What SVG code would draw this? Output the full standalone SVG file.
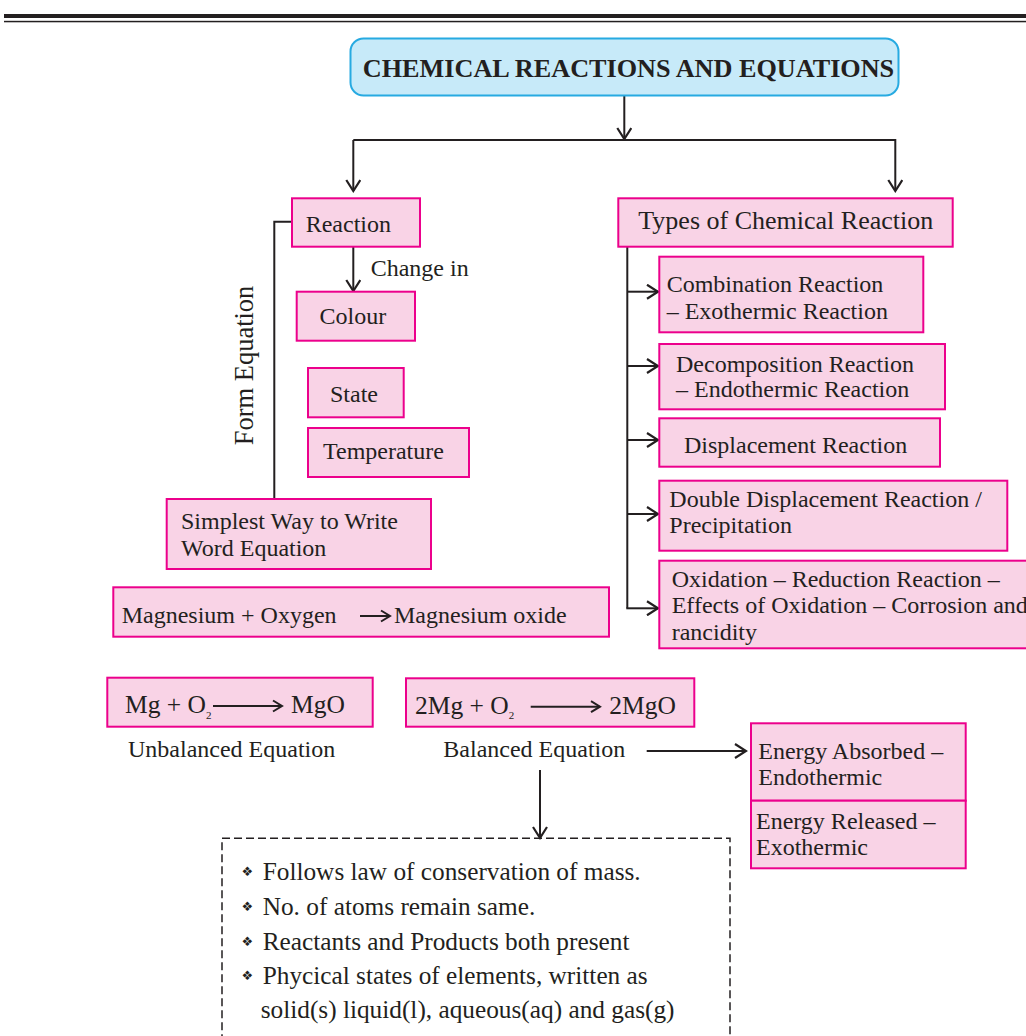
<svg xmlns="http://www.w3.org/2000/svg" width="1026" height="1036" viewBox="0 0 1026 1036">
<style>
.bx{fill:#f9d3e6;stroke:#ec008c;stroke-width:2}
.t{font-family:"Liberation Serif","Times New Roman",serif;font-size:24px;fill:#231f20}
.eq{font-family:"Liberation Serif","Times New Roman",serif;font-size:25.5px;fill:#231f20}
.ln{fill:none;stroke:#231f20;stroke-width:2}
.bul{font-family:"DejaVu Sans",sans-serif;font-size:13px;fill:#231f20}
.bt{font-family:"Liberation Serif","Times New Roman",serif;font-size:25.3px;fill:#231f20}
</style>
<defs>
<marker id="ah" viewBox="0 0 14 16" refX="12" refY="8" markerWidth="14" markerHeight="16" orient="auto" markerUnits="userSpaceOnUse">
<path d="M1,1 L12,8 L1,15" fill="none" stroke="#231f20" stroke-width="2.2"/>
</marker>
<marker id="ahs" viewBox="0 0 12 14" refX="10" refY="7" markerWidth="12" markerHeight="14" orient="auto" markerUnits="userSpaceOnUse">
<path d="M1,1.5 L10,7 L1,12.5" fill="none" stroke="#231f20" stroke-width="2"/>
</marker>
</defs>
<rect width="1026" height="1036" fill="#ffffff"/>
<g id="header-rule">
<rect x="4" y="14" width="1022" height="4" fill="#231f20"/>
<rect x="4" y="20.8" width="1022" height="1.5" fill="#231f20"/>
</g>
<g id="connectors">
<line class="ln" x1="624.3" y1="95" x2="624.3" y2="139" marker-end="url(#ah)"/>
<polyline class="ln" points="353.3,140 895.3,140 895.3,191" marker-end="url(#ah)"/>
<line class="ln" x1="353.3" y1="140" x2="353.3" y2="191" marker-end="url(#ah)"/>
<polyline class="ln" points="292,221.7 274.3,221.7 274.3,499"/>
<line class="ln" x1="353.3" y1="247" x2="353.3" y2="291" marker-end="url(#ah)"/>
<line class="ln" x1="627.3" y1="246.7" x2="627.3" y2="608.3"/>
<line class="ln" x1="627.3" y1="291.7" x2="658" y2="291.7" marker-end="url(#ah)"/>
<line class="ln" x1="627.3" y1="366" x2="658" y2="366" marker-end="url(#ah)"/>
<line class="ln" x1="627.3" y1="440" x2="658" y2="440" marker-end="url(#ah)"/>
<line class="ln" x1="627.3" y1="514" x2="658" y2="514" marker-end="url(#ah)"/>
<line class="ln" x1="626.3" y1="608.3" x2="658" y2="608.3" marker-end="url(#ah)"/>
<line class="ln" x1="646.7" y1="751" x2="746" y2="751" marker-end="url(#ah)"/>
<line class="ln" x1="540" y1="770" x2="540" y2="838" marker-end="url(#ah)"/>
</g>
<g id="title">
<rect x="350.5" y="38.5" width="548" height="57" rx="13" fill="#c7eaf9" stroke="#27aae1" stroke-width="2"/>
<text x="628.5" y="76.5" text-anchor="middle" font-family="Liberation Serif,'Times New Roman',serif" font-size="26.2" font-weight="bold" fill="#231f20">CHEMICAL REACTIONS AND EQUATIONS</text>
</g>
<g id="reaction">
<rect class="bx" x="292" y="198.3" width="128" height="48.4"/>
<text class="t" x="305.7" y="231.5">Reaction</text>
</g>
<text id="change-in" class="t" x="370.7" y="275.7">Change in</text>
<g id="colour">
<rect class="bx" x="296.7" y="291.7" width="118.3" height="49"/>
<text class="t" x="319.5" y="324">Colour</text>
</g>
<g id="state">
<rect class="bx" x="308" y="368" width="95.7" height="49.3"/>
<text class="t" x="330" y="401.7">State</text>
</g>
<g id="temperature">
<rect class="bx" x="308" y="428" width="161" height="49"/>
<text class="t" x="323" y="458.5">Temperature</text>
</g>
<text id="form-equation" class="t" transform="translate(253,365.5) rotate(-90)" text-anchor="middle" style="font-size:26.5px">Form Equation</text>
<g id="simplest">
<rect class="bx" x="166.7" y="499" width="264.3" height="70"/>
<text class="t" x="181" y="528.5">Simplest Way to Write</text>
<text class="t" x="181" y="556">Word Equation</text>
</g>
<g id="word-equation">
<rect class="bx" x="113.3" y="587.3" width="495.7" height="49.4"/>
<text class="t" x="121.7" y="623.3">Magnesium + Oxygen</text>
<line class="ln" x1="360" y1="616" x2="390" y2="616" marker-end="url(#ahs)"/>
<text class="t" x="394" y="623.3">Magnesium oxide</text>
</g>
<g id="unbalanced">
<rect class="bx" x="107.3" y="677.7" width="265.4" height="49"/>
<text class="eq" x="125" y="713.3">Mg + O<tspan font-size="11" dy="5.5">2</tspan></text>
<line class="ln" x1="213" y1="706" x2="282" y2="706" marker-end="url(#ahs)"/>
<text class="eq" x="291" y="713.3">MgO</text>
</g>
<text id="unbalanced-label" class="t" x="128" y="756.5">Unbalanced Equation</text>
<g id="balanced">
<rect class="bx" x="406" y="678.3" width="288.3" height="48.4"/>
<text class="eq" x="415" y="714">2Mg + O<tspan font-size="11" dy="5">2</tspan></text>
<line class="ln" x1="530.7" y1="706.7" x2="600" y2="706.7" marker-end="url(#ahs)"/>
<text class="eq" x="609.3" y="714">2MgO</text>
</g>
<text id="balanced-label" class="t" x="443.3" y="756.7">Balanced Equation</text>
<g id="types">
<rect class="bx" x="618.3" y="198.3" width="334.4" height="48.4"/>
<text class="t" x="638.3" y="229" style="font-size:26px">Types of Chemical Reaction</text>
</g>
<g id="combination">
<rect class="bx" x="659.3" y="256.7" width="264" height="75.6"/>
<text class="t" x="666.7" y="292">Combination Reaction</text>
<text class="t" x="666.7" y="318.5">– Exothermic Reaction</text>
</g>
<g id="decomposition">
<rect class="bx" x="659.3" y="344" width="285.7" height="65.3"/>
<text class="t" x="676" y="371.7">Decomposition Reaction</text>
<text class="t" x="676" y="397.3">– Endothermic Reaction</text>
</g>
<g id="displacement">
<rect class="bx" x="659.3" y="418.3" width="280.7" height="48.4"/>
<text class="t" x="684" y="453.3">Displacement Reaction</text>
</g>
<g id="double-displacement">
<rect class="bx" x="659.3" y="480.7" width="348" height="70"/>
<text class="t" x="669.3" y="506.7">Double Displacement Reaction /</text>
<text class="t" x="669.3" y="533.3">Precipitation</text>
</g>
<g id="oxidation">
<rect class="bx" x="659.3" y="560.7" width="372" height="87.6"/>
<text class="t" x="671.7" y="586.7">Oxidation – Reduction Reaction –</text>
<text class="t" x="671.7" y="613.3">Effects of Oxidation – Corrosion and</text>
<text class="t" x="671.7" y="640">rancidity</text>
</g>
<g id="energy-absorbed">
<rect class="bx" x="751" y="723.3" width="214.7" height="77.4"/>
<text class="t" x="758.3" y="759.3">Energy Absorbed –</text>
<text class="t" x="758.3" y="785">Endothermic</text>
</g>
<g id="energy-released">
<rect class="bx" x="751" y="800.7" width="214.7" height="67.6"/>
<text class="t" x="756" y="829.3">Energy Released –</text>
<text class="t" x="756" y="855">Exothermic</text>
</g>
<g id="balanced-properties">
<rect x="222" y="838.3" width="508" height="230" fill="none" stroke="#231f20" stroke-width="1.5" stroke-dasharray="8,4"/>
<text class="bul" x="241.5" y="876">❖</text>
<text class="bt" x="262.7" y="880">Follows law of conservation of mass.</text>
<text class="bul" x="241.5" y="911">❖</text>
<text class="bt" x="262.7" y="915">No. of atoms remain same.</text>
<text class="bul" x="241.5" y="946">❖</text>
<text class="bt" x="262.7" y="950">Reactants and Products both present</text>
<text class="bul" x="241.5" y="980">❖</text>
<text class="bt" x="262.7" y="984">Phycical states of elements, written as</text>
<text class="bt" x="260.7" y="1018">solid(s) liquid(l), aqueous(aq) and gas(g)</text>
</g>
</svg>
